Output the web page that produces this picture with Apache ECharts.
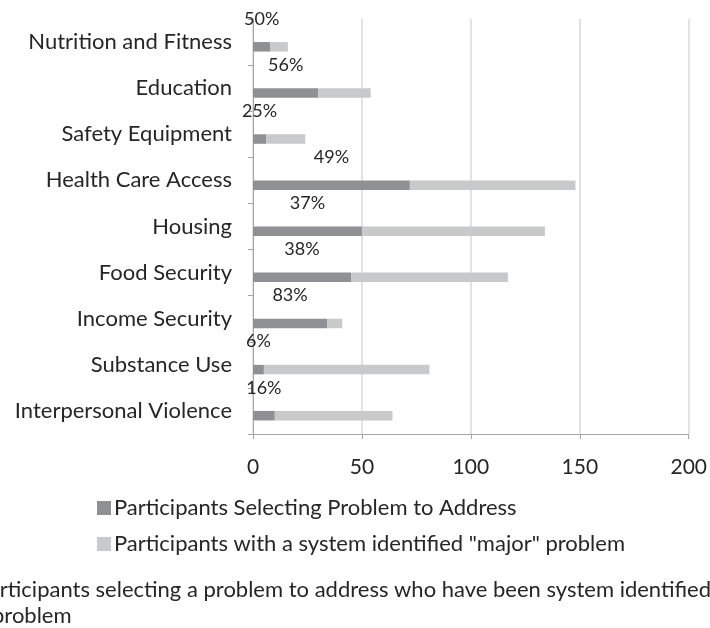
<!DOCTYPE html>
<html><head><meta charset="utf-8">
<script src="https://cdn.jsdelivr.net/npm/echarts@6/dist/echarts.min.js"></script>
<style>html,body{margin:0;padding:0;background:#fff}#c{width:710px;height:628px}</style>
</head><body><div id="c"></div>
<script>
var categories = ['Nutrition and Fitness','Education','Safety Equipment','Health Care Access','Housing','Food Security','Income Security','Substance Use','Interpersonal Violence'];
var selecting = [8, 30, 6, 72, 50, 45, 34, 5, 10];
var majorProblem = [16, 54, 24, 148, 134, 117, 41, 81, 64];
var pctLabels = ['50%','56%','25%','49%','37%','38%','83%','6%','16%'];
var xTicks = [0, 50, 100, 150, 200];
var nameSel = 'Participants Selecting Problem to Address';
var nameMaj = 'Participants with a system identified "major" problem';
var remainder = majorProblem.map(function(v,i){return v - selecting[i];});
var FONT = 'Lato';
var chart = echarts.init(document.getElementById('c'));
chart.setOption({
  animation:false,
  textStyle:{fontFamily:FONT,color:'#262626'},
  grid:{left:253,top:19,width:438,height:415,containLabel:false},
  xAxis:{type:'value',min:xTicks[0],max:xTicks[xTicks.length-1],interval:50,
    axisLine:{show:true,lineStyle:{color:'#a6a6a6'}},
    axisTick:{show:true,length:5,lineStyle:{color:'#a6a6a6'}},
    splitLine:{show:true,lineStyle:{color:'#d9d9d9',width:1.5}},
    axisLabel:{fontSize:21,color:'#262626',margin:23,fontFamily:FONT}},
  yAxis:{type:'category',data:categories,inverse:true,
    axisLine:{show:true,lineStyle:{color:'#a6a6a6'}},
    axisTick:{show:true,length:5,lineStyle:{color:'#a6a6a6'}},
    axisLabel:{fontSize:22,color:'#262626',margin:21,fontFamily:FONT}},
  legend:{orient:'vertical',left:92,top:492,itemWidth:14,itemHeight:14,itemGap:14,icon:'rect',
    data:[nameSel,nameMaj],textStyle:{fontSize:22,color:'#262626',fontFamily:FONT,padding:[0,0,0,-2]}},
  series:[
    {name:'pad',type:'bar',stack:'p',data:categories.map(function(){return 0;}),barWidth:9.5,barGap:'0%',
      itemStyle:{color:'rgba(0,0,0,0)'},silent:true},
    {name:nameSel,type:'bar',stack:'s',data:selecting,barWidth:9.5,barGap:'0%',
      itemStyle:{color:'#8f9093'},
      label:{show:true,position:'inside',offset:[0,-28],fontSize:18,color:'#262626',fontFamily:FONT,
        formatter:function(p){return pctLabels[p.dataIndex];}}},
    {name:nameMaj,type:'bar',stack:'s',data:remainder,barWidth:9.5,barGap:'0%',itemStyle:{color:'#c8c9cb'}}
  ],
  graphic:[
    {type:'text',x:-24,y:579,style:{text:'Participants selecting a problem to address who have been system identified',fontSize:22,fill:'#262626',fontFamily:FONT}},
    {type:'text',x:-8,y:605,style:{text:'problem',fontSize:22,fill:'#262626',fontFamily:FONT}}
  ]
});
</script></body></html>
